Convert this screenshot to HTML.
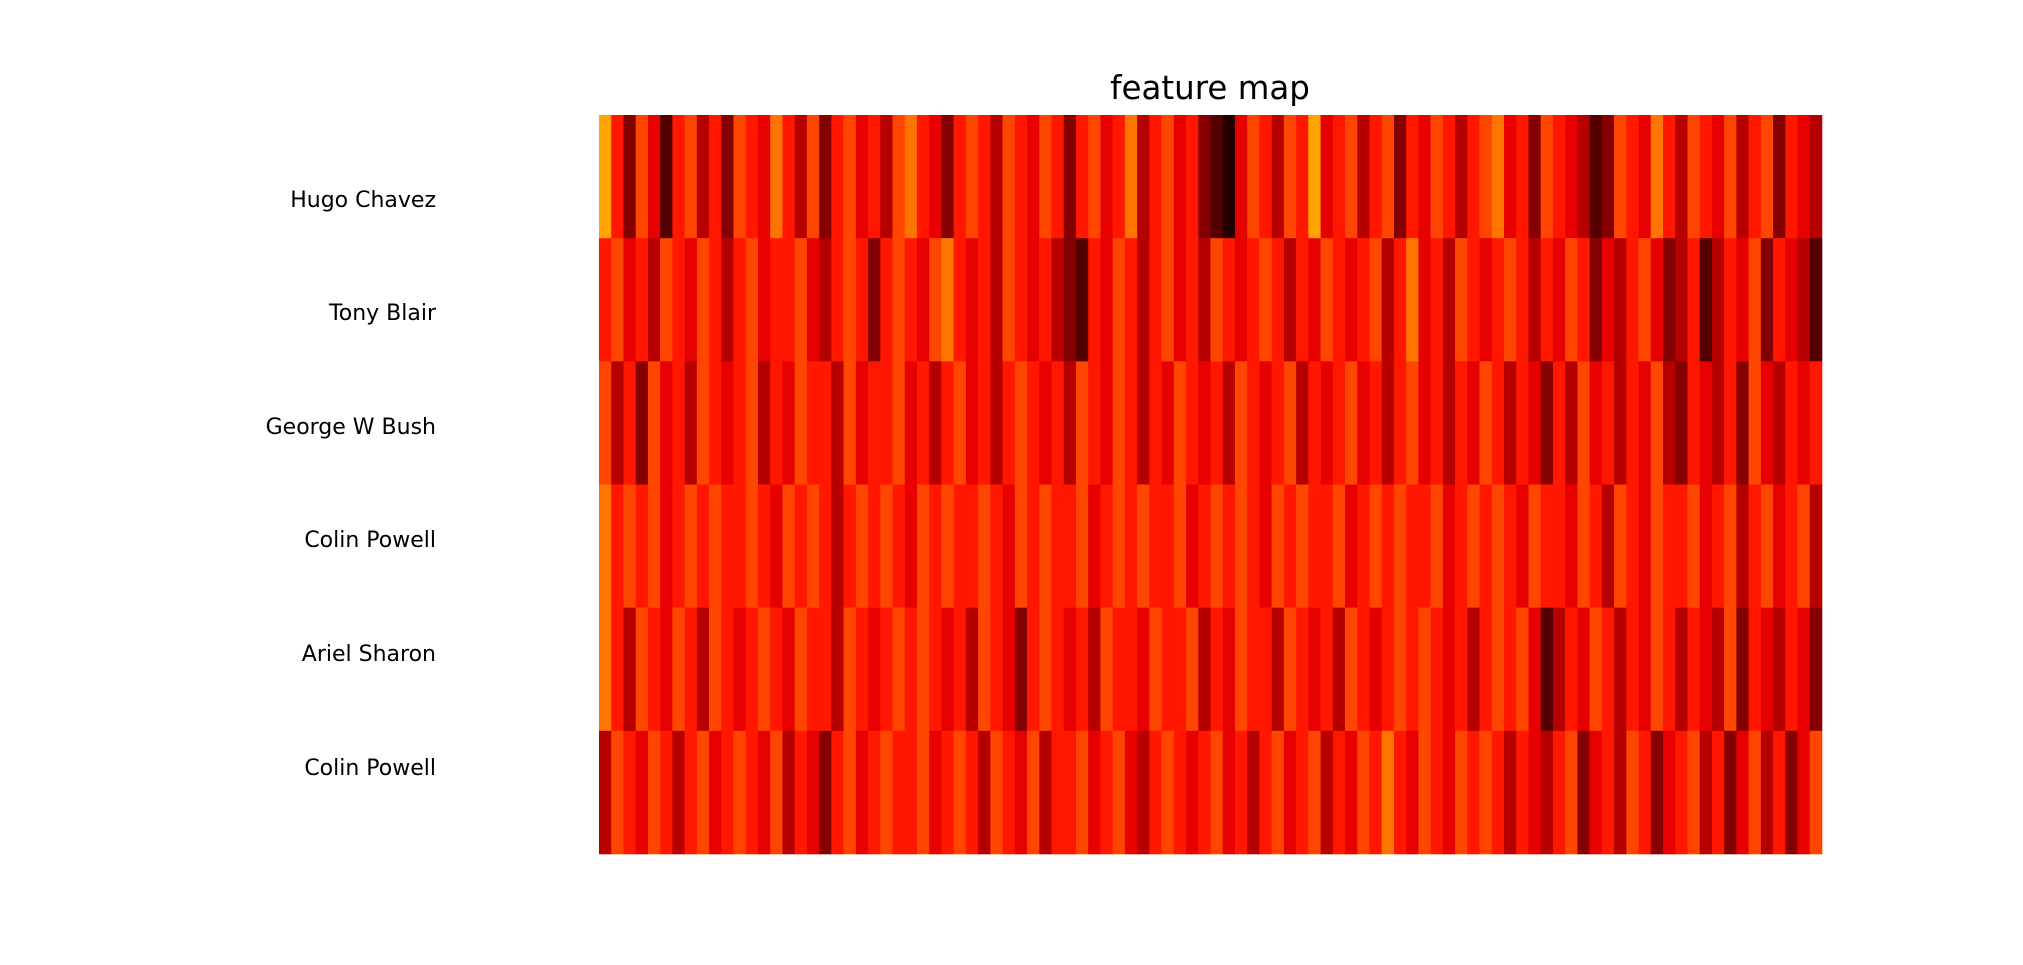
<!DOCTYPE html>
<html><head><meta charset="utf-8"><style>
body{margin:0;background:#fff;width:2023px;height:960px;overflow:hidden;font-family:"Liberation Sans","DejaVu Sans",sans-serif}
</style></head><body>
<svg id="chart" width="2023" height="960">
<text x="1210" y="99" text-anchor="middle" font-size="32.5" fill="#000" font-family="DejaVu Sans, Liberation Sans, sans-serif">feature map</text>
<g id="cells"></g>
<g id="labels"></g>
</svg>
<script>
const rowLabels=["Hugo Chavez","Tony Blair","George W Bush","Colin Powell","Ariel Sharon","Colin Powell"];
const labelY=[200,313,427,540,654,768];
const row0=[8,5,2,6,4,1,5,6,3,5,2,6,5,4,7,5,3,6,2,5,6,4,5,3,6,7,5,4,2,5,6,5,3,6,5,4,6,5,2,5,6,4,5,7,3,5,6,4,5,2,1,0,4,6,5,3,6,5,8,4,5,6,3,5,6,2,5,4,6,5,3,5,6,7,4,5,2,6,5,4,3,1,2,6,5,4,7,5,3,6,5,4,6,3,5,6,2,5,4,3];
const row1=[5,6,4,5,3,6,5,4,6,5,3,5,6,4,5,5,6,4,3,5,6,5,2,5,6,5,4,6,7,5,4,5,3,6,5,4,5,3,2,1,5,4,6,5,3,5,6,4,5,3,6,5,4,5,6,5,3,5,4,6,5,4,5,6,3,5,7,4,5,3,6,5,4,5,6,5,3,5,4,6,5,2,4,3,5,6,4,2,3,5,1,3,5,4,6,2,5,4,3,1];
const row2=[6,3,5,2,6,4,5,3,6,5,4,5,6,3,5,4,6,5,5,3,6,4,5,5,6,4,5,3,5,6,4,5,3,5,6,5,4,5,3,6,5,4,6,5,3,5,4,6,5,4,5,3,6,5,4,5,6,3,5,4,5,6,4,5,3,5,6,4,5,3,5,4,6,5,3,5,4,2,5,3,6,4,5,3,5,4,6,3,2,5,4,3,5,2,6,4,3,5,4,5];
const row3=[7,5,6,5,6,4,5,6,5,6,5,5,6,5,4,6,5,6,5,3,5,6,5,6,5,4,6,5,6,5,5,6,5,4,6,5,6,5,5,6,4,5,6,5,6,5,5,6,4,5,6,5,6,5,4,6,5,6,5,5,6,4,5,6,5,6,5,5,6,4,5,6,5,6,5,4,6,5,5,4,6,5,3,6,5,4,6,5,5,6,4,5,6,3,5,6,4,5,6,3];
const row4=[7,5,3,6,5,4,6,5,3,6,5,4,5,6,5,4,6,5,5,3,6,5,4,5,6,5,6,5,4,5,3,6,5,4,2,5,6,5,4,5,3,6,5,5,4,6,5,5,6,3,5,4,6,5,5,3,6,5,4,5,3,6,5,4,5,6,5,6,5,4,5,3,5,6,5,6,4,1,3,5,4,6,5,3,5,4,6,5,3,5,4,3,6,2,5,4,3,5,4,2];
const row5=[3,6,5,4,6,5,3,5,6,4,5,6,5,4,6,3,5,4,2,5,6,4,5,6,5,5,6,4,5,6,5,3,6,5,4,6,3,5,5,6,4,5,6,4,3,5,6,5,4,5,6,4,5,3,5,6,4,5,6,3,5,4,6,5,7,5,4,6,5,4,6,5,6,5,3,5,4,3,5,6,2,4,5,3,6,5,2,4,5,6,3,5,2,4,6,3,5,2,4,6];
const rows=[row0,row1,row2,row3,row4,row5];
const X0=599,X1=1822,Y0=115,Y1=854;
function xs(i,n){return X0+(X1-X0)*i/n;}
function ys(r){return Y0+(Y1-Y0)*r/rows.length;}
function hot(v){const c=t=>Math.max(0,Math.min(1,t));
 const r=c(v/0.365),g=c((v-0.365)/0.38),b=c((v-0.746)/0.254);
 return `rgb(${Math.round(r*255)},${Math.round(g*255)},${Math.round(b*255)})`;}
const ns="http://www.w3.org/2000/svg";
const cells=document.getElementById('cells');
rows.forEach((row,r)=>{
 row.forEach((v,i)=>{
  const el=document.createElementNS(ns,'rect');
  
  
  const x=xs(i,row.length),x2=xs(i+1,row.length);
  el.setAttribute('x',x);el.setAttribute('width',x2-x+0.3);
  el.setAttribute('y',ys(r));el.setAttribute('height',ys(r+1)-ys(r)+0.3);
  el.setAttribute('fill',hot(0.05+v*0.07));
  cells.appendChild(el);
 });
});
const lg=document.getElementById('labels');
rowLabels.forEach((t,i)=>{
 const el=document.createElementNS(ns,'text');
 
 
 el.setAttribute('x',436);el.setAttribute('y',labelY[i]+7);
 el.setAttribute('text-anchor','end');el.setAttribute('font-size','22');
 el.setAttribute('font-family','DejaVu Sans, Liberation Sans, sans-serif');
 el.textContent=t;lg.appendChild(el);
});
</script>
</body></html>
